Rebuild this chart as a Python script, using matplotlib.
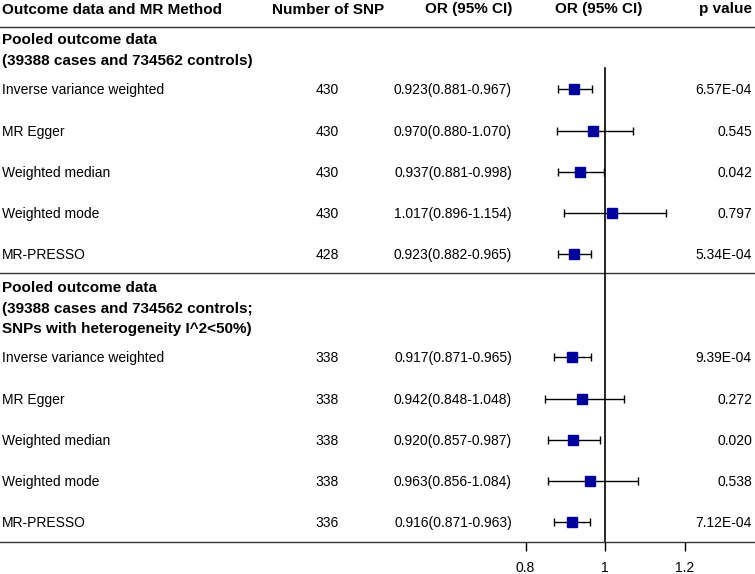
import matplotlib
matplotlib.use("Agg")
import matplotlib.pyplot as plt

plt.rcParams['font.family'] = ['Liberation Sans', 'DejaVu Sans']

# Datos de la tabla
grupos = [
    ["Pooled outcome data", "(39388 cases and 734562 controls)"],
    ["Pooled outcome data", "(39388 cases and 734562 controls;",
     "SNPs with heterogeneity I^2<50%)"],
]
metodos = ["Inverse variance weighted", "MR Egger", "Weighted median",
           "Weighted mode", "MR-PRESSO"]
n_snp = [[430, 430, 430, 430, 428], [338, 338, 338, 338, 336]]
or_val = [[0.923, 0.970, 0.937, 1.017, 0.923], [0.917, 0.942, 0.920, 0.963, 0.916]]
ci_low = [[0.881, 0.880, 0.881, 0.896, 0.882], [0.871, 0.848, 0.857, 0.856, 0.871]]
ci_high = [[0.967, 1.070, 0.998, 1.154, 0.965], [0.965, 1.048, 0.987, 1.084, 0.963]]
p_val = [["6.57E-04", "0.545", "0.042", "0.797", "5.34E-04"],
         ["9.39E-04", "0.272", "0.020", "0.538", "7.12E-04"]]
encabezados = ["Outcome data and MR Method", "Number of SNP", "OR (95% CI)",
               "OR (95% CI)", "p value"]
ticks = [0.8, 1, 1.2]

# Posiciones (pixeles de la figura)
W, H = 755, 574
filas_y = [[89, 131, 172, 213, 254], [357, 399, 440, 481, 522]]
grupo_y = [[38, 59], [286, 307, 327]]
escala = 397.5   # pixeles por unidad de OR
x_uno = 605      # pixel de OR = 1

fig = plt.figure(figsize=(W / 100, H / 100), dpi=100)
ax = fig.add_axes([0, (H - 542) / H, 1, 542 / H])
ax.set_xlim(1 - x_uno / escala, 1 + (W - x_uno) / escala)
ax.set_ylim(542, 0)
tr = ax.get_yaxis_transform()

def fx(px):
    return px / W

def texto(px, y, s, ha, negrita=False):
    # y es el centro de las mayusculas; se dibuja sobre la linea base
    if negrita:
        ax.text(fx(px), y + 5.5, s, transform=tr, fontsize=11, fontweight='bold',
                ha=ha, va='baseline')
    else:
        ax.text(fx(px), y + 5, s, transform=tr, fontsize=10, ha=ha, va='baseline')

azul = '#00009C'
linea = '#333333'

# Encabezados
hy = 8
texto(2, hy, encabezados[0], 'left', True)
texto(328, hy, encabezados[1], 'center', True)
texto(512, hy, encabezados[2], 'right', True)
texto(599, hy, encabezados[3], 'center', True)
texto(752, hy, encabezados[4], 'right', True)

ax.axhline(27, color=linea, lw=1)
ax.axhline(273, color=linea, lw=1)

for g in range(2):
    for titulo, y in zip(grupos[g], grupo_y[g]):
        texto(2, y, titulo, 'left', True)
    for i, y in enumerate(filas_y[g]):
        texto(2, y, metodos[i], 'left')
        texto(327, y, str(n_snp[g][i]), 'center')
        txt = f"{or_val[g][i]:.3f}({ci_low[g][i]:.3f}-{ci_high[g][i]:.3f})"
        texto(512, y, txt, 'right')
        texto(752, y, p_val[g][i], 'right')
    xerr = [[o - l for o, l in zip(or_val[g], ci_low[g])],
            [h - o for o, h in zip(or_val[g], ci_high[g])]]
    ax.errorbar(or_val[g], filas_y[g], xerr=xerr, fmt='s', color=azul,
                markersize=7, ecolor='black', elinewidth=1, capsize=3,
                capthick=1, zorder=3)

ax.plot([1, 1], [68, 542], color='black', lw=1.2, zorder=2)

# Eje inferior
for s in ['top', 'left', 'right']:
    ax.spines[s].set_visible(False)
ax.spines['bottom'].set_color(linea)
ax.spines['bottom'].set_linewidth(1)
ax.set_yticks([])
ax.set_xticks(ticks)
ax.set_xticklabels(["0.8", "1", "1.2"])
ax.tick_params(axis='x', direction='out', length=6.5, width=1, pad=7,
               labelsize=10, color='black')

fig.savefig("out.png", dpi=100)
plt.close(fig)
